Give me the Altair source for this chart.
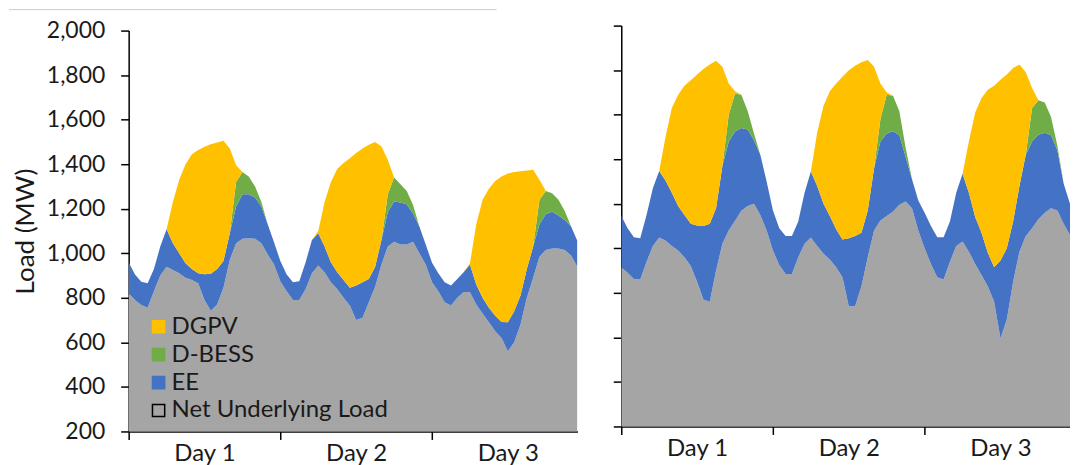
import altair as alt
import pandas as pd

HOURS = list(range(72))
LEGEND_ORDER = ["DGPV", "D-BESS", "EE", "Net Underlying Load"]
FILL_COLORS = ["#FFC000", "#70AD47", "#4472C4", "#A5A5A5"]
STROKE_COLORS = ["#FFC000", "#70AD47", "#4472C4", "#000000"]
STACK_ORDER = {"Net Underlying Load": 0, "EE": 1, "D-BESS": 2, "DGPV": 3}
DAY_TICKS = [0, 24, 48]
Y_TICKS = [200, 400, 600, 800, 1000, 1200, 1400, 1600, 1800, 2000]

# ---- left panel (MW, hourly) ----
NET_L = [820, 790, 768, 755, 830, 900, 940, 925, 910, 890, 880, 865, 790, 742, 770, 845, 970, 1045, 1065, 1068, 1065, 1045, 995, 950,
         875, 830, 790, 790, 840, 910, 945, 915, 870, 840, 800, 766, 700, 710, 780, 850, 950, 1030, 1052, 1040, 1040, 1052, 1000, 950,
         870, 830, 780, 765, 800, 826, 825, 770, 730, 690, 650, 620, 560, 600, 680, 800, 890, 985, 1015, 1022, 1022, 1015, 990, 940]
EE_L = [140, 115, 104, 110, 100, 130, 168, 120, 90, 65, 50, 45, 116, 166, 160, 120, 120, 165, 200, 197, 185, 165, 135, 100,
        90, 75, 80, 85, 120, 150, 145, 115, 90, 75, 80, 79, 155, 160, 105, 90, 110, 155, 180, 188, 180, 127, 120, 90,
        88, 80, 90, 90, 85, 89, 125, 90, 70, 65, 70, 72, 130, 140, 130, 130, 140, 145, 160, 165, 148, 135, 130, 115]
BESS_L = [0, 0, 0, 0, 0, 0, 0, 0, 0, 0, 0, 0, 0, 0, 0, 0, 0, 110, 100, 80, 50, 20, 0, 0,
          0, 0, 0, 0, 0, 0, 0, 0, 0, 0, 0, 0, 0, 0, 0, 0, 0, 80, 108, 82, 60, 38, 0, 0,
          0, 0, 0, 0, 0, 0, 0, 0, 0, 0, 0, 0, 0, 0, 0, 0, 0, 110, 105, 83, 70, 40, 0, 0]
PV_L = [0, 0, 0, 0, 0, 0, 0, 185, 330, 445, 515, 554, 572, 582, 568, 540, 380, 75, 0, 0, 0, 0, 0, 0,
        0, 0, 0, 0, 0, 0, 10, 200, 360, 463, 525, 582, 595, 600, 602, 560, 420, 155, 0, 0, 0, 0, 0, 0,
        0, 0, 0, 0, 0, 0, 5, 270, 440, 535, 605, 653, 668, 625, 558, 442, 345, 90, 0, 0, 0, 0, 0, 0]

# ---- right panel (MW, hourly) ----
NET_R = [915, 890, 862, 860, 940, 1010, 1049, 1035, 1010, 990, 960, 920, 850, 770, 760, 900, 1020, 1080, 1124, 1169, 1190, 1200, 1150, 1080,
         990, 925, 885, 885, 960, 1020, 1049, 1010, 975, 950, 915, 870, 740, 740, 830, 960, 1080, 1125, 1145, 1165, 1195, 1210, 1180, 1080,
         1000, 930, 870, 860, 940, 1010, 1030, 985, 930, 880, 830, 760, 595, 680, 850, 985, 1055, 1090, 1130, 1160, 1180, 1170, 1110, 1060]
EE_R = [231, 200, 188, 185, 210, 260, 298, 270, 240, 200, 190, 190, 252, 330, 350, 280, 350, 400, 401, 371, 344, 285, 270, 220,
        180, 165, 170, 170, 160, 230, 296, 270, 225, 195, 170, 170, 305, 315, 240, 210, 280, 355, 370, 361, 313, 200, 130, 135,
        160, 170, 180, 190, 180, 240, 305, 265, 210, 190, 150, 155, 350, 320, 270, 295, 365, 390, 380, 359, 328, 270, 180, 140]
BESS_R = [0, 0, 0, 0, 0, 0, 0, 0, 0, 0, 0, 0, 0, 0, 0, 0, 0, 120, 170, 150, 82, 30, 0, 0,
          0, 0, 0, 0, 0, 0, 0, 0, 0, 0, 0, 0, 0, 0, 0, 0, 0, 100, 175, 159, 107, 40, 0, 0,
          0, 0, 0, 0, 0, 0, 0, 0, 0, 0, 0, 0, 0, 0, 0, 0, 0, 150, 155, 136, 82, 20, 0, 0]
PV_R = [0, 0, 0, 0, 0, 0, 0, 195, 380, 500, 580, 645, 678, 705, 715, 662, 445, 140, 10, 0, 0, 0, 0, 0,
        0, 0, 0, 0, 0, 0, 0, 240, 440, 560, 655, 730, 755, 765, 765, 675, 455, 160, 10, 0, 0, 0, 0, 0,
        0, 0, 0, 0, 0, 0, 0, 230, 470, 605, 732, 815, 812, 780, 690, 545, 370, 90, 0, 0, 0, 0, 0, 0]

FONT = "Lato"
TEXT = "#1a1a1a"
W, H = 450, 402
SHIFT = 5  # right panel sits a few pixels higher than the left one
HOUR_PX = W / 71.0


def to_long(net, ee, bess, pv):
    rows = []
    for i, h in enumerate(HOURS):
        for name, vals in (("Net Underlying Load", net), ("EE", ee), ("D-BESS", bess), ("DGPV", pv)):
            rows.append({"hour": h, "series": name, "value": vals[i], "ord": STACK_ORDER[name]})
    return pd.DataFrame(rows)


def panel(df, left):
    if left:
        leg = alt.Legend(title=None, orient="none", legendX=18, legendY=285, symbolType="square",
                         symbolSize=150, symbolStrokeWidth=1.5, labelFont=FONT, labelFontSize=24,
                         labelColor=TEXT, rowPadding=4, labelOffset=1, padding=0, labelLimit=400)
        yaxis = alt.Axis(values=Y_TICKS, format=",d", title="Load (MW)", labelPadding=16,
                         titlePadding=8, tickSize=8, labelFontSize=23)
        yscale = alt.Scale(domain=[200, 2000], nice=False, zero=False)
        height = H
    else:
        leg = None
        yaxis = alt.Axis(values=Y_TICKS, labels=False, title=None, tickSize=8)
        yscale = alt.Scale(domain=[200, 2000], nice=False, zero=False, range=[H - SHIFT, -SHIFT])
        height = H - SHIFT
    xaxis = alt.Axis(values=DAY_TICKS, labelExpr="'Day ' + (datum.value / 24 + 1)",
                     labelOffset=round(12 * HOUR_PX), labelFlush=False, labelOverlap=False,
                     title=None, tickSize=8, labelPadding=2, labelFontSize=24)
    area = alt.Chart(df).mark_area(clip=True, interpolate="linear").encode(
        x=alt.X("hour:Q", scale=alt.Scale(domain=[0, 71], nice=False, zero=False), axis=xaxis),
        y=alt.Y("value:Q", stack="zero", scale=yscale, axis=yaxis),
        color=alt.Color("series:N", scale=alt.Scale(domain=LEGEND_ORDER, range=FILL_COLORS), legend=leg),
        stroke=alt.Stroke("series:N", scale=alt.Scale(domain=LEGEND_ORDER, range=STROKE_COLORS), legend=leg),
        strokeWidth=alt.value(0),
        order=alt.Order("ord:Q", sort="ascending"),
    )
    if left:
        # thin grey rule along the top of the figure
        rule = alt.Chart(pd.DataFrame({"k": [0]})).mark_rule(color="#cccccc", strokeWidth=1).encode(
            x=alt.value(-120), x2=alt.value(369), y=alt.value(-21)
        )
        return alt.layer(area, rule).properties(width=W, height=height)
    return area.properties(width=W, height=height)


left = panel(to_long(NET_L, EE_L, BESS_L, PV_L), True)
right = panel(to_long(NET_R, EE_R, BESS_R, PV_R), False)

chart = alt.hconcat(left, right, spacing=35).resolve_scale(y="independent").resolve_legend(
    color="independent", stroke="independent"
).properties(
    padding={"left": 0, "top": 0, "right": 0, "bottom": 0}
).configure_view(stroke=None).configure_axis(
    domainColor="black", domainWidth=1.5, tickColor="black", tickWidth=1.5, grid=False,
    labelFont=FONT, labelFontSize=22, labelColor=TEXT,
    titleFont=FONT, titleFontSize=26, titleFontWeight="normal", titleColor=TEXT,
)

chart.save("out.html", embed_options={"renderer": "svg", "actions": False})
